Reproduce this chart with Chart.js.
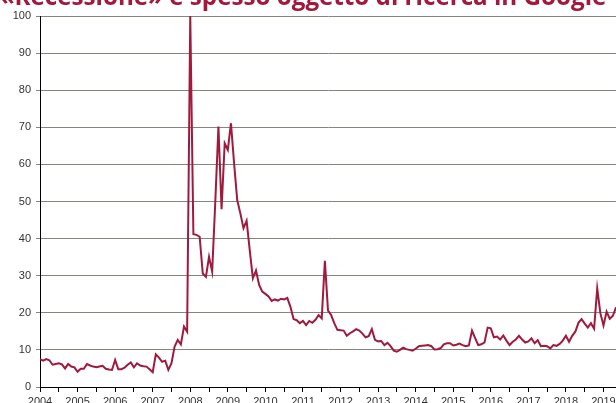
<!DOCTYPE html>
<html>
<head>
<meta charset="utf-8">
<script src="https://cdn.jsdelivr.net/npm/chart.js@4/dist/chart.umd.min.js"></script>
<style>
  html, body { margin: 0; padding: 0; background: #fff; overflow: hidden; }
  #wrap { position: relative; width: 616px; height: 403px; }
</style>
</head>
<body>
<div id="wrap"><canvas id="recChart" width="616" height="403"></canvas></div>
<script>
// Google Trends index for "Recessione", monthly from Jan 2004
const startYear = 2004;
const searchIndex = [
  // 2004
  7.5, 7.1, 7.5, 7.2, 6.0, 6.2, 6.4, 6.1, 5.0, 6.2, 5.5, 5.3,
  // 2005
  4.1, 4.9, 4.9, 6.2, 5.8, 5.5, 5.3, 5.5, 5.7, 4.9, 4.7, 4.6,
  // 2006
  7.3, 4.8, 4.8, 5.2, 6.0, 6.6, 5.3, 6.4, 5.8, 5.6, 5.5, 4.8,
  // 2007
  4.0, 8.8, 7.9, 6.8, 7.1, 4.6, 6.4, 10.9, 12.7, 11.5, 16.3, 14.9,
  // 2008
  100, 41.2, 41.0, 40.5, 30.6, 29.7, 35.1, 31.1, 50.0, 70.2, 47.9, 65.7,
  // 2009
  63.9, 71.1, 60.3, 50.4, 46.8, 42.8, 44.8, 36.9, 29.3, 31.4, 27.5, 25.7,
  // 2010
  25.1, 24.4, 23.2, 23.6, 23.3, 23.8, 23.6, 24.0, 21.6, 18.3, 18.0, 17.2,
  // 2011
  17.8, 16.7, 17.8, 17.3, 18.1, 19.4, 18.5, 34.0, 20.6, 19.4, 17.2, 15.4,
  // 2012
  15.3, 15.2, 13.8, 14.5, 15.0, 15.6, 15.2, 14.4, 13.4, 13.7, 15.6, 12.7,
  // 2013
  12.3, 12.4, 11.3, 11.9, 11.0, 9.8, 9.5, 10.0, 10.6, 10.2, 10.0, 9.8,
  // 2014
  10.3, 11.0, 11.1, 11.2, 11.3, 11.0, 10.1, 10.2, 10.5, 11.5, 11.8, 11.8,
  // 2015
  11.2, 11.4, 11.7, 11.3, 11.0, 11.2, 15.2, 13.2, 11.3, 11.5, 12.0, 16.0,
  // 2016
  15.8, 13.4, 13.6, 12.8, 13.9, 12.5, 11.3, 12.2, 12.8, 13.8, 12.8, 12.0,
  // 2017
  12.3, 13.1, 11.8, 12.6, 11.0, 11.1, 11.0, 10.4, 11.3, 11.1, 11.6, 12.5,
  // 2018
  13.8, 12.2, 13.8, 14.9, 17.3, 18.3, 17.1, 16.0, 17.2, 15.7, 26.6, 19.9,
  // 2019
  16.6, 20.3, 18.4, 19.2, 21.5,
];
const yTicks = [0, 10, 20, 30, 40, 50, 60, 70, 80, 90, 100];
const titleText = '\u00abRecessione\u00bb \u00e8 spesso oggetto di ricerca in Google';

const points = searchIndex.map((v, i) => ({ x: startYear + i / 12, y: v }));
const lastX = startYear + (searchIndex.length - 1) / 12;

// title sits partly above the top edge, like the cropped original
const titlePlugin = {
  id: 'cutTitle',
  afterDraw(chart) {
    const ctx = chart.ctx;
    ctx.save();
    ctx.fillStyle = '#a3183d';
    ctx.font = 'bold 20px "Open Sans", Lato, sans-serif';
    const w = ctx.measureText(titleText).width;
    const size = (20 * 608) / w;
    ctx.font = 'bold ' + size.toFixed(1) + 'px "Open Sans", Lato, sans-serif';
    ctx.textAlign = 'center';
    ctx.textBaseline = 'alphabetic';
    ctx.fillText(titleText, 303, 5);
    ctx.restore();
  },
};

const whiteBg = {
  id: 'whiteBg',
  beforeDraw(chart) {
    const ctx = chart.ctx;
    ctx.save();
    ctx.fillStyle = '#fff';
    ctx.fillRect(0, 0, chart.width, chart.height);
    ctx.restore();
  },
};

new Chart(document.getElementById('recChart'), {
  type: 'line',
  data: {
    datasets: [{
      data: points,
      borderColor: '#a01a3d',
      borderWidth: 2,
      pointRadius: 0,
      tension: 0,
      fill: false,
    }],
  },
  plugins: [whiteBg, titlePlugin],
  options: {
    responsive: false,
    animation: false,
    layout: { padding: { top: 16, right: 0, left: 0, bottom: 0 } },
    plugins: { legend: { display: false }, tooltip: { enabled: false }, title: { display: false } },
    scales: {
      x: {
        type: 'linear',
        min: startYear,
        max: lastX,
        afterBuildTicks(scale) {
          scale.ticks = scale.ticks.filter((t) => Number.isInteger(t.value * 2));
        },
        afterFit(scale) {
          scale.height = 16;
          scale.paddingLeft = 0;
          scale.paddingRight = 0;
        },
        ticks: {
          stepSize: 0.5,
          includeBounds: false,
          autoSkip: false,
          maxRotation: 0,
          padding: 3,
          color: '#333',
          font: { family: '"Liberation Sans", Arial, sans-serif', size: 11 },
          callback: (v) => (Number.isInteger(v) ? String(v) : ''),
        },
        grid: { drawOnChartArea: false, drawTicks: true, tickLength: 5, color: '#000' },
        border: { color: '#000', width: 1 },
      },
      y: {
        min: 0,
        max: 100,
        afterBuildTicks(scale) {
          scale.ticks = yTicks.map((v) => ({ value: v }));
        },
        afterFit(scale) {
          scale.width = 40;
        },
        ticks: {
          padding: 5,
          color: '#333',
          font: { family: '"Liberation Sans", Arial, sans-serif', size: 11 },
        },
        grid: { color: '#85857c', lineWidth: 1, tickLength: 4 },
        border: { color: '#000', width: 1 },
      },
    },
  },
});
</script>
</body>
</html>
